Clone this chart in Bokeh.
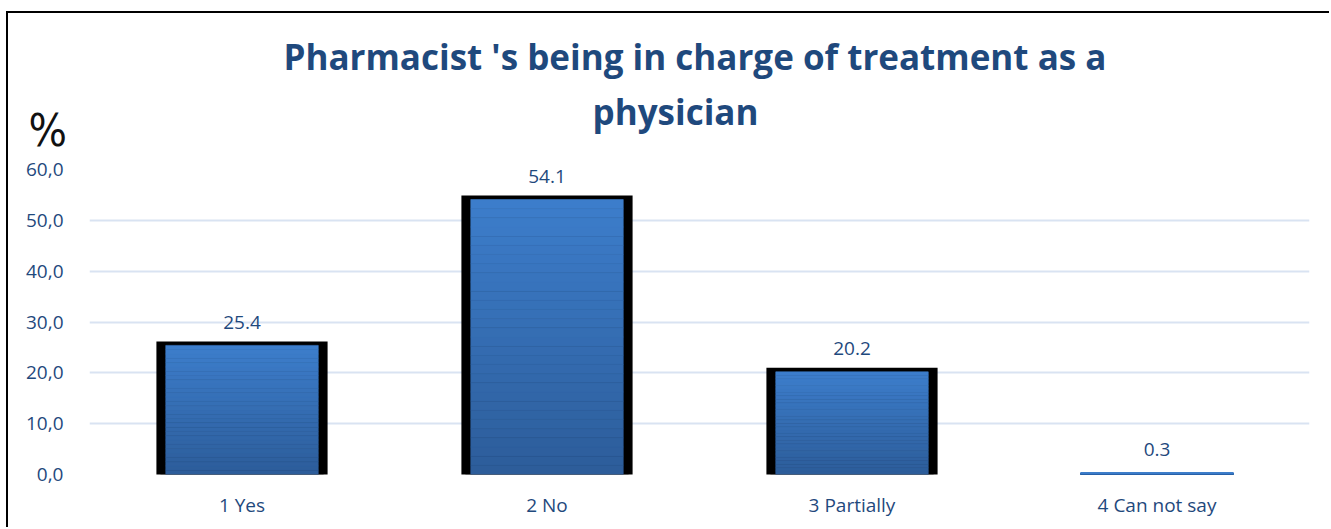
from bokeh.plotting import figure
from bokeh.models import ColumnDataSource, LabelSet, Label, FactorRange, Title
from bokeh.core.properties import value
from bokeh.embed import file_html
from bokeh.resources import INLINE

# ---- data ----
categories = ["1 Yes", "2 No", "3 Partially", "4 Can not say"]
values = [25.4, 54.1, 20.2, 0.3]
value_labels = ["25.4", "54.1", "20.2", "0.3"]
y_ticks = [0, 10, 20, 30, 40, 50, 60]
y_tick_labels = ["0,0", "10,0", "20,0", "30,0", "40,0", "50,0", "60,0"]
title_line1 = "Pharmacist 's being in charge of treatment  as a"
title_line2 = "physician"
axis_unit = "%"

# ---- styles ----
TEXT = "#1F497D"
GRID = "#D9E3F2"
FONT = "Open Sans"
TOP_C = (61, 126, 204)
BOT_C = (45, 93, 154)
N_SLICES = 30

p = figure(
    x_range=FactorRange(*categories, range_padding=0),
    y_range=(0, 60),
    width=1323, height=516,
    output_backend="svg", toolbar_location=None,
    min_border_left=81, min_border_right=22,
    min_border_top=156, min_border_bottom=55,
)
p.margin = (11, 0, 0, 6)
p.styles = {"border-top": "2px solid black", "border-left": "2px solid black"}
p.outline_line_color = None
p.background_fill_color = "white"
p.border_fill_color = "white"

# unit label (top side panel, canvas coordinates) -- closest slot
p.add_layout(Label(x=18, y=115, x_units="canvas", y_units="canvas", text=axis_unit,
                   text_font="'DejaVu Sans Condensed', 'Liberation Sans', sans-serif",
                   text_font_size="45px",
                   text_color="#111111", text_baseline="alphabetic"), "above")

# title line 2
t2 = Title(text=title_line2, align="left", offset=503, standoff=-37,
           text_font=FONT, text_font_size="35px", text_font_style="bold",
           text_color=TEXT)
p.add_layout(t2, "above")

# empty spacer slot between the two title lines
spacer = Title(text=" ", standoff=-4, text_font=FONT, text_font_size="35px",
               text_font_style="bold", text_color=TEXT)
p.add_layout(spacer, "above")

# title line 1 (main title, outermost)
p.title.text = title_line1
p.title.align = "center"
p.title.standoff = -40
p.title.text_font = FONT
p.title.text_font_size = "35px"
p.title.text_font_style = "bold"
p.title.text_color = TEXT

# grid
p.xgrid.grid_line_color = None
p.ygrid.grid_line_color = GRID
p.ygrid.grid_line_width = 2
p.ygrid.ticker = y_ticks

# axes
p.yaxis.ticker = y_ticks
p.yaxis.major_label_overrides = {t: l for t, l in zip(y_ticks, y_tick_labels)}
for ax in (p.xaxis, p.yaxis):
    ax.axis_line_color = None
    ax.major_tick_line_color = None
    ax.minor_tick_line_color = None
    ax.major_label_text_font = FONT
    ax.major_label_text_font_size = "19px"
    ax.major_label_text_color = TEXT
p.yaxis.major_label_standoff = 20
p.xaxis.major_label_standoff = 11

# black outline bars (visible only where the bar has height)
outline_alpha = [1.0 if v >= 1 else 0.0 for v in values]
p.vbar(x=categories, top=values, width=0.535, fill_color="black",
       line_color="black", line_width=8, line_join="miter",
       fill_alpha=outline_alpha, line_alpha=outline_alpha)

# gradient blue bars
xs, bots, tops, cols = [], [], [], []
for c, v in zip(categories, values):
    for i in range(N_SLICES):
        xs.append(c)
        bots.append(v * i / N_SLICES)
        tops.append(v * (i + 1) / N_SLICES)
        t = (i + 0.5) / N_SLICES
        col = tuple(int(BOT_C[k] + (TOP_C[k] - BOT_C[k]) * t) for k in range(3))
        cols.append("#%02x%02x%02x" % col)
p.vbar(x=xs, bottom=bots, top=tops, width=0.5, fill_color=cols,
       line_color=cols, line_width=0.6)

# value labels
src = ColumnDataSource(dict(x=categories, y=values, t=value_labels))
p.add_layout(LabelSet(x="x", y="y", text="t", source=src, text_align="center",
                      text_baseline="middle", y_offset=23,
                      text_font=value(FONT), text_font_size=value("19px"),
                      text_color=value(TEXT)))

open("out.html", "w").write(file_html(p, INLINE))
